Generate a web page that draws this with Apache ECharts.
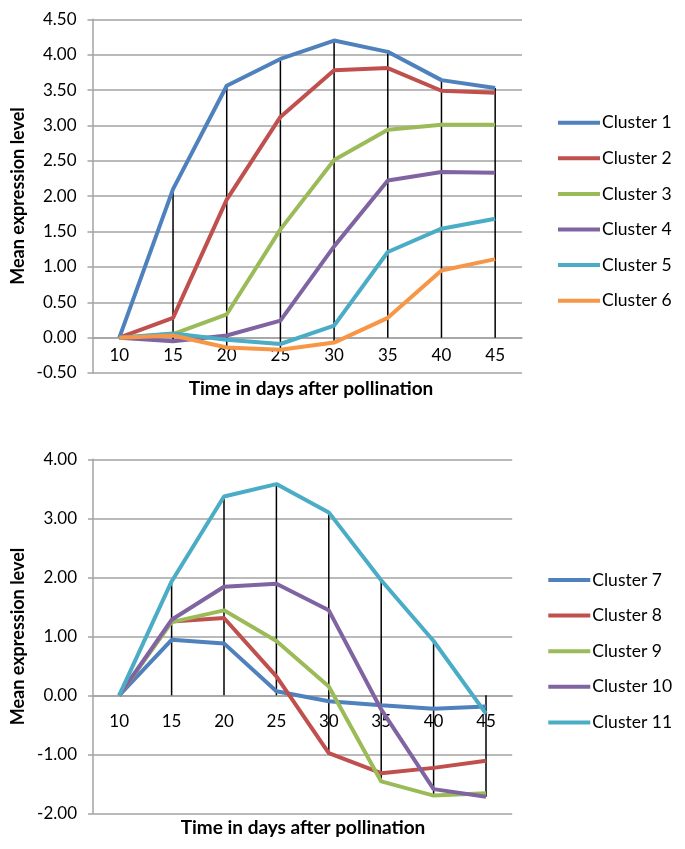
<!DOCTYPE html>
<html>
<head>
<meta charset="utf-8">
<script src="https://cdn.jsdelivr.net/npm/echarts@6/dist/echarts.min.js"></script>
<style>
html,body{margin:0;padding:0;background:#fff;}
#chart{width:685px;height:849px;}
</style>
</head>
<body>
<div id="chart"></div>
<script>
// ---- data ----
const categories = ['10','15','20','25','30','35','40','45'];

const topNames = ['Cluster 1','Cluster 2','Cluster 3','Cluster 4','Cluster 5','Cluster 6'];
const cluster1 = [0, 2.10, 3.56, 3.94, 4.20, 4.04, 3.64, 3.53];
const cluster2 = [0, 0.28, 1.95, 3.12, 3.78, 3.81, 3.49, 3.46];
const cluster3 = [0, 0.05, 0.33, 1.53, 2.51, 2.94, 3.01, 3.01];
const cluster4 = [0, -0.05, 0.03, 0.24, 1.29, 2.22, 2.34, 2.33];
const cluster5 = [0, 0.06, -0.03, -0.09, 0.17, 1.21, 1.54, 1.68];
const cluster6 = [0, 0.03, -0.14, -0.17, -0.07, 0.28, 0.95, 1.11];

const bottomNames = ['Cluster 7','Cluster 8','Cluster 9','Cluster 10','Cluster 11'];
const cluster7 = [0, 0.94, 0.88, 0.07, -0.10, -0.17, -0.23, -0.19];
const cluster8 = [0, 1.25, 1.31, 0.32, -0.98, -1.32, -1.23, -1.11];
const cluster9 = [0, 1.24, 1.44, 0.92, 0.15, -1.46, -1.70, -1.66];
const cluster10 = [0, 1.28, 1.84, 1.89, 1.44, -0.24, -1.59, -1.72];
const cluster11 = [0, 1.93, 3.37, 3.58, 3.10, 1.95, 0.92, -0.31];

const topTicks = {min: -0.5, max: 4.5, interval: 0.5};
const bottomTicks = {min: -2, max: 4, interval: 1};

const xTitle = 'Time in days after pollination';
const yTitle = 'Mean expression level';

// ---- style ----
const colors = ['#4F81BD','#C0504D','#9BBB59','#8064A2','#4BACC6','#F79646'];
const FONT = 'Lato, "Open Sans", sans-serif';
const gridColor = '#a3a3a3';

const topSeries = [cluster1, cluster2, cluster3, cluster4, cluster5, cluster6];
const bottomSeries = [cluster7, cluster8, cluster9, cluster10, cluster11];

function dropData(arrs) {
  return categories.map((c, i) => {
    const vals = arrs.map(a => a[i]);
    return [i, Math.max(0, ...vals), Math.min(0, ...vals)];
  });
}

function dropRender(params, api) {
  const x = api.value(0);
  const p1 = api.coord([x, api.value(1)]);
  const p2 = api.coord([x, api.value(2)]);
  if (Math.abs(p1[1] - p2[1]) < 0.5) return null;
  return {
    type: 'line',
    shape: {x1: p1[0], y1: p1[1], x2: p2[0], y2: p2[1]},
    style: {stroke: '#000', lineWidth: 1.5}
  };
}

// labels sit just under the zero line (category axis crosses at 0)
function xAxisCfg(gridIndex, labelMargin) {
  return {
    type: 'category', gridIndex, data: categories, boundaryGap: true,
    axisLine: {onZero: true, lineStyle: {color: gridColor, width: 1.5}},
    axisTick: {show: false},
    axisLabel: {color: '#000', fontSize: 17, fontFamily: FONT, inside: true, margin: labelMargin}
  };
}
function yAxisCfg(gridIndex, t) {
  return {
    type: 'value', gridIndex, min: t.min, max: t.max, interval: t.interval,
    axisLine: {show: true, lineStyle: {color: gridColor, width: 1.5}},
    axisTick: {show: true, inside: false, length: 5, lineStyle: {color: gridColor, width: 1.5}},
    splitLine: {show: true, lineStyle: {color: gridColor, width: 1.5}},
    axisLabel: {color: '#000', fontSize: 17, fontFamily: FONT, margin: 16,
      formatter: v => v.toFixed(2)}
  };
}

const series = [];
series.push({
  type: 'custom', xAxisIndex: 0, yAxisIndex: 0, renderItem: dropRender,
  data: dropData(topSeries), encode: {x: 0, y: [1, 2]}, z: 1, silent: true
});
series.push({
  type: 'custom', xAxisIndex: 1, yAxisIndex: 1, renderItem: dropRender,
  data: dropData(bottomSeries), encode: {x: 0, y: [1, 2]}, z: 1, silent: true
});
topSeries.forEach((d, i) => series.push({
  type: 'line', name: topNames[i], xAxisIndex: 0, yAxisIndex: 0, data: d,
  symbol: 'none', z: 2, color: colors[i],
  lineStyle: {width: 4, color: colors[i]}
}));
bottomSeries.forEach((d, i) => series.push({
  type: 'line', name: bottomNames[i], xAxisIndex: 1, yAxisIndex: 1, data: d,
  symbol: 'none', z: 2, color: colors[i],
  lineStyle: {width: 4, color: colors[i]}
}));

function legendCfg(names, left, top) {
  return {
    orient: 'vertical', left, top, data: names, padding: 0,
    icon: 'rect', itemWidth: 42, itemHeight: 4, itemGap: 15.6,
    textStyle: {color: '#000', fontSize: 17.5, fontFamily: FONT, lineHeight: 20, padding: [0,0,0,-3]},
    selectedMode: false
  };
}

function titleText(text, x, y, rotated, size) {
  return {
    type: 'text', x, y, rotation: rotated ? Math.PI / 2 : 0,
    style: {text, fontSize: size, fontWeight: 'bold', fontFamily: FONT, fill: '#000',
      align: 'center', verticalAlign: 'middle'}
  };
}

const chart = echarts.init(document.getElementById('chart'), null, {renderer: 'canvas'});
chart.setOption({
  animation: false,
  backgroundColor: '#fff',
  grid: [
    {left: 92.5, top: 19.3, width: 429.5, height: 353.7, containLabel: false},
    {left: 93, top: 459.3, width: 419.2, height: 354, containLabel: false}
  ],
  xAxis: [xAxisCfg(0, 9), xAxisCfg(1, 83)],
  yAxis: [yAxisCfg(0, topTicks), yAxisCfg(1, bottomTicks)],
  legend: [legendCfg(topNames, 558, 112.7), legendCfg(bottomNames, 548.3, 570)],
  graphic: [
    titleText(xTitle, 311, 389, false, 19),
    titleText(xTitle, 303, 828, false, 19),
    titleText(yTitle, 18, 196, true, 18),
    titleText(yTitle, 18, 636.5, true, 18)
  ],
  series
});
</script>
</body>
</html>
